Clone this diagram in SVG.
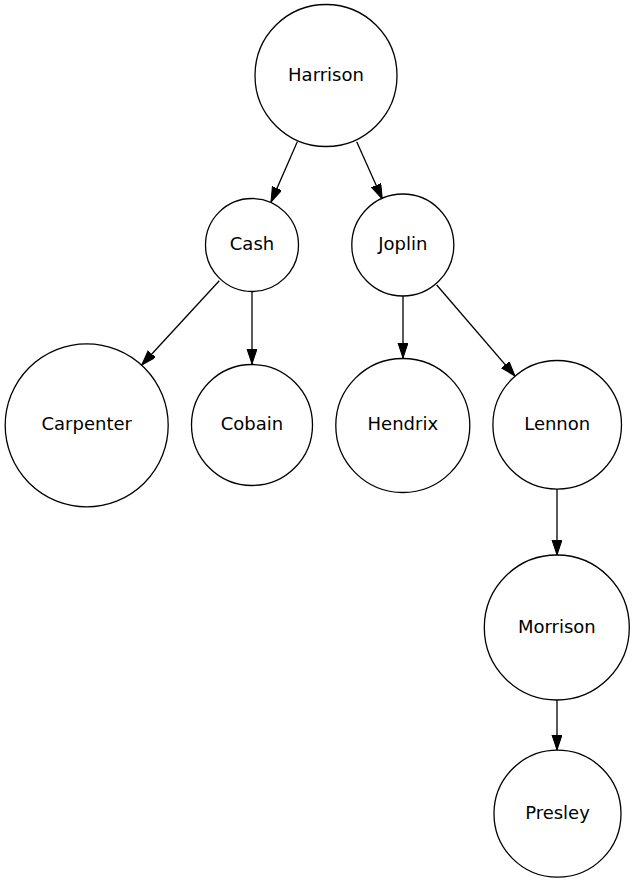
<svg xmlns="http://www.w3.org/2000/svg" width="635" height="883" viewBox="0 0 635 883">
<style>
.node circle{fill:#fff;stroke:#000;stroke-width:1.3}
.node text{font-family:"DejaVu Sans","Liberation Sans",sans-serif;font-size:18px;text-anchor:middle;fill:#000}
.edge{stroke:#000;stroke-width:1.3;fill:none;marker-end:url(#arr)}
</style>
<defs>
<marker id="arr" markerUnits="userSpaceOnUse" markerWidth="16" markerHeight="11" refX="15" refY="5" orient="auto">
<path d="M0,0 L15,5 L0,10 z" fill="#000" stroke="#000" stroke-width="1"/>
</marker>
</defs>
<rect width="635" height="883" fill="#fff"/>
<g id="edges">
<line class="edge" x1="297.3" y1="141.7" x2="271" y2="202"/>
<line class="edge" x1="356.7" y1="141.7" x2="382.3" y2="199"/>
<line class="edge" x1="219.3" y1="280.7" x2="141.7" y2="365"/>
<line class="edge" x1="252" y1="292" x2="252" y2="364"/>
<line class="edge" x1="403" y1="296" x2="403" y2="358"/>
<line class="edge" x1="436.7" y1="285" x2="515" y2="376"/>
<line class="edge" x1="557" y1="489" x2="557" y2="555"/>
<line class="edge" x1="557" y1="700" x2="557" y2="750"/>
</g>
<g id="Harrison" class="node"><circle cx="326" cy="75.5" r="71"/><text x="326" y="80.5">Harrison</text></g>
<g id="Cash" class="node"><circle cx="252" cy="245" r="46.5"/><text x="252" y="250">Cash</text></g>
<g id="Joplin" class="node"><circle cx="402.8" cy="245" r="51"/><text x="402.8" y="250">Joplin</text></g>
<g id="Carpenter" class="node"><circle cx="86.7" cy="425.3" r="81.5"/><text x="86.7" y="430">Carpenter</text></g>
<g id="Cobain" class="node"><circle cx="252" cy="425" r="60.5"/><text x="252" y="430">Cobain</text></g>
<g id="Hendrix" class="node"><circle cx="402.8" cy="425.5" r="67"/><text x="402.8" y="430">Hendrix</text></g>
<g id="Lennon" class="node"><circle cx="557.2" cy="424.8" r="64.3"/><text x="557.2" y="430">Lennon</text></g>
<g id="Morrison" class="node"><circle cx="556.8" cy="627.5" r="72.5"/><text x="556.8" y="632.5">Morrison</text></g>
<g id="Presley" class="node"><circle cx="557.5" cy="813.7" r="63.5"/><text x="557.5" y="818.5">Presley</text></g>
</svg>
